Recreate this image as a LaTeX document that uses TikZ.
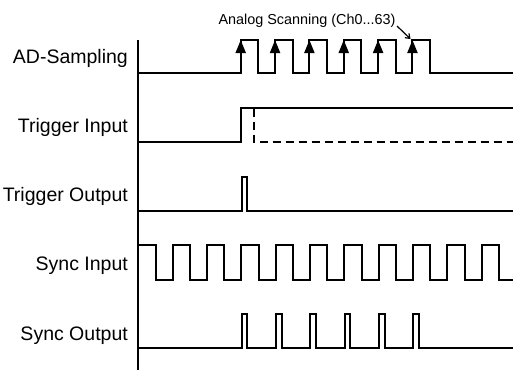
\documentclass[tikz,border=0pt]{standalone}
\usepackage{fontspec}
\setmainfont{Liberation Sans}
\usetikzlibrary{arrows.meta}
\begin{document}
\begin{tikzpicture}[x=1pt,y=-1pt,
  sig/.style={line width=2pt,line join=miter},
  lbl/.style={anchor=base east,inner sep=0pt,font=\fontsize{19.5}{22}\selectfont},
  scanarrow/.style={line width=2pt,-{Triangle[length=13pt,width=10pt]}},
  note/.style={anchor=base west,inner sep=0pt,font=\fontsize{14.4}{16}\selectfont}]
\useasboundingbox (0,0) rectangle (513,378);
% axis
\draw[line width=1.6pt] (138,40) -- (138,370);
% labels
\node[lbl] (lad) at (128,63.3) {AD-Sampling};
\node[lbl] (lti) at (128,132.5) {Trigger Input};
\node[lbl] (lto) at (128,201.7) {Trigger Output};
\node[lbl] (lsi) at (128,270.9) {Sync Input};
\node[lbl] (lso) at (128,340.1) {Sync Output};
% AD-Sampling
\draw[sig] (138,73) -- (240.7,73)
  \foreach \k in {0,...,5} {
    -- ({240.7+34.35*\k},73) -- ({240.7+34.35*\k},40) -- ({258.3+34.35*\k},40) -- ({258.3+34.35*\k},73)
  } -- (513,73);
\foreach \k in {0,...,5} {
  \draw[scanarrow] ({240.7+34.35*\k},62) -- ({240.7+34.35*\k},40);
}
\node[note] (scan) at (218.3,24.3) {Analog Scanning (Ch0...63)};
\coordinate (scanA) at (397,26);
\coordinate (scanB) at (410.5,39);
\draw[line width=1.2pt,-{Straight Barb[length=4pt,width=6pt]}] (scanA) -- (scanB);
% Trigger input
\draw[sig] (138,142.3) -- (241,142.3) -- (241,107.7) -- (513,107.7);
\draw[sig,dash pattern=on 8pt off 5pt] (254.3,108.5) -- (254.3,142.3) -- (513,142.3);
% Trigger output
\draw[sig] (138,211) -- (241.5,211) -- (241.5,176.7) -- (246.7,176.7) -- (246.7,211) -- (513,211);
% Sync input
\draw[sig] (138,245) -- (155.7,245)
  \foreach \k in {0,...,9} {
    -- ({155.7+34.33*\k},245) -- ({155.7+34.33*\k},280) -- ({172.7+34.33*\k},280) -- ({172.7+34.33*\k},245)
  } -- (499,245) -- (499,280) -- (513,280);
% Sync output
\draw[sig] (138,347.7) -- (241.7,347.7)
  \foreach \k in {0,...,5} {
    -- ({241.7+34.35*\k},347.7) -- ({241.7+34.35*\k},314.3) -- ({247.4+34.35*\k},314.3) -- ({247.4+34.35*\k},347.7)
  } -- (513,347.7);
\end{tikzpicture}
\end{document}
